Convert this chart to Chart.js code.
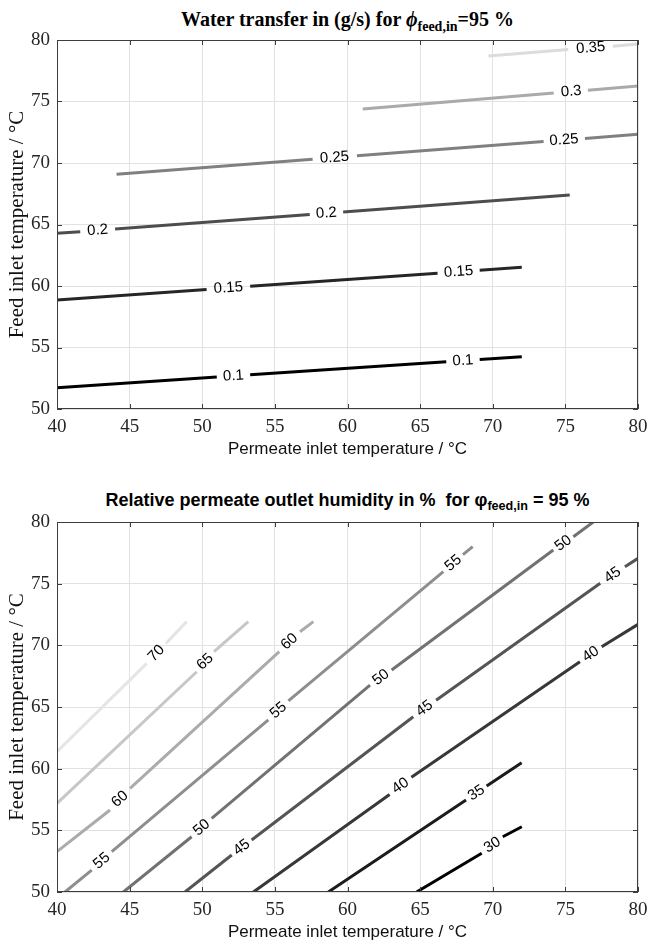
<!DOCTYPE html>
<html><head><meta charset="utf-8">
<script src="https://cdn.jsdelivr.net/npm/chart.js@4.4.1/dist/chart.umd.min.js"></script>
<style>
html,body{margin:0;padding:0;background:#fff;width:648px;height:945px;overflow:hidden;position:relative}
canvas{position:absolute;left:0}
#c1{top:0}
#c2{top:482px}
.title{position:absolute;left:57px;width:581px;text-align:center;white-space:nowrap;color:#000}
#t1{top:8px;font:bold 20px "Liberation Serif",serif;line-height:22px}
#t2{top:489px;font:bold 18px "Liberation Sans",Arial,sans-serif;line-height:22px}
.title sub{font-size:70%;vertical-align:-0.35em;line-height:0}
</style></head>
<body>
<div id="t1" class="title">Water transfer in (g/s) for <i>ϕ</i><sub>feed,in</sub>=95 %</div>
<canvas id="c1" width="648" height="470"></canvas>
<div id="t2" class="title">Relative permeate outlet humidity in %&nbsp; for φ<sub>feed,in</sub> = 95 %</div>
<canvas id="c2" width="648" height="463"></canvas>
<script>
// ---------- tick values ----------
const xTickValues = [40, 45, 50, 55, 60, 65, 70, 75, 80];
const yTickValues = [50, 55, 60, 65, 70, 75, 80];

// ---------- top chart: water transfer (g/s) contour lines ----------
const topLevels = ['0.1', '0.15', '0.2', '0.25', '0.3', '0.35'];
const top010X = [40, 51.0, null, 53.3, 66.8, null, 69.1, 72.0];
const top010Y = [51.73, 52.60, null, 52.78, 53.84, null, 54.02, 54.25];
const top010Labels = [[52.15, 52.69], [67.95, 53.93]];
const top015X = [40, 50.3, null, 53.3, 66.2, null, 69.1, 72.0];
const top015Y = [58.86, 59.72, null, 59.97, 61.04, null, 61.28, 61.52];
const top015Labels = [[51.8, 59.84], [67.65, 61.16]];
const top020X = [40, 41.6, null, 44.0, 57.4, null, 59.7, 75.3];
const top020Y = [64.28, 64.42, null, 64.63, 65.82, null, 66.02, 67.40];
const top020Labels = [[42.8, 64.53], [58.55, 65.92]];
const top025X = [44.1, 57.6, null, 60.65, 73.5, null, 76.35, 80];
const top025Y = [69.08, 70.30, null, 70.58, 71.74, null, 72.00, 72.33];
const top025Labels = [[59.1, 70.44], [74.9, 71.87]];
const top030X = [61.05, 74.2, null, 76.55, 80];
const top030Y = [74.39, 75.69, null, 75.92, 76.26];
const top030Labels = [[75.4, 75.81]];
const top035X = [69.7, 75.2, null, 78.26, 80];
const top035Y = [78.70, 79.22, null, 79.50, 79.67];
const top035Labels = [[76.75, 79.36]];

// ---------- bottom chart: relative permeate outlet humidity (%) ----------
const botLevels = ['30', '35', '40', '45', '50', '55', '60', '65', '70'];
const b30X = [64.76, 69.24, null, 70.69, 72.0];
const b30Y = [50, 53.14, null, 54.48, 55.29];
const b30Labels = [[69.97, 53.81]];
const b35X = [58.68, 68.16, null, 69.58, 71.99];
const b35Y = [50, 57.46, null, 58.59, 60.48];
const b35Labels = [[68.87, 58.03]];
const b40X = [53.52, 62.9, null, 64.4, 76.0, null, 77.5, 80];
const b40Y = [50, 57.9, null, 59.3, 68.67, null, 69.89, 71.7];
const b40Labels = [[63.65, 58.6], [76.75, 69.28]];
const b45X = [48.81, 52.03, null, 53.4, 64.53, null, 66.1, 77.4, null, 79.1, 80];
const b45Y = [50, 53.0, null, 54.22, 64.21, null, 65.55, 75.03, null, 76.38, 77.05];
const b45Labels = [[52.72, 53.61], [65.3, 64.88], [78.25, 75.7]];
const b50X = [44.57, 49.27, null, 50.65, 61.55, null, 63.04, 74.17, null, 75.55, 76.92];
const b50Y = [50, 54.48, null, 55.97, 66.78, null, 68.0, 77.73, null, 78.81, 80];
const b50Labels = [[49.96, 55.22], [62.3, 67.4], [74.86, 78.27]];
const b55X = [40.55, 42.39, null, 43.77, 54.55, null, 55.93, 66.6, null, 67.95, 68.62];
const b55Y = [50, 51.78, null, 53.27, 63.95, null, 65.5, 75.97, null, 77.35, 78.0];
const b55Labels = [[43.08, 52.52], [55.24, 64.72], [67.28, 76.66]];
const b60X = [40, 43.65, null, 45.03, 55.3, null, 56.73, 57.65];
const b60Y = [53.27, 56.65, null, 58.41, 69.49, null, 71.1, 71.92];
const b60Labels = [[44.34, 57.53], [56.0, 70.3]];
const b65X = [40, 49.62, null, 50.81, 53.17];
const b65Y = [57.19, 67.86, null, 69.48, 71.92];
const b65Labels = [[50.2, 68.67]];
const b70X = [40, 46.18, null, 47.5, 48.93];
const b70Y = [61.38, 68.54, null, 70.16, 71.92];
const b70Labels = [[46.84, 69.35]];

// ---------- styling ----------
const topColors = ['#000000', '#262626', '#4d4d4d', '#808080', '#aaaaaa', '#dcdcdc'];
const botColors = ['#000000', '#1c1c1c', '#383838', '#555555', '#727272', '#8e8e8e', '#ababab', '#c7c7c7', '#e5e5e5'];

function toPoints(xs, ys) {
  return xs.map((x, i) => x === null ? {x: null, y: null} : {x: x, y: ys[i]});
}
function makeDatasets(levels, xsList, ysList, labList, colors) {
  return levels.map((lv, i) => ({
    label: lv,
    data: toPoints(xsList[i], ysList[i]),
    contourLabels: labList[i],
    borderColor: colors[i],
    backgroundColor: colors[i],
    borderWidth: 3,
    pointRadius: 0,
    spanGaps: false,
    tension: 0,
    fill: false
  }));
}

const topDatasets = makeDatasets(topLevels,
  [top010X, top015X, top020X, top025X, top030X, top035X],
  [top010Y, top015Y, top020Y, top025Y, top030Y, top035Y],
  [top010Labels, top015Labels, top020Labels, top025Labels, top030Labels, top035Labels],
  topColors);
const botDatasets = makeDatasets(botLevels,
  [b30X, b35X, b40X, b45X, b50X, b55X, b60X, b65X, b70X],
  [b30Y, b35Y, b40Y, b45Y, b50Y, b55Y, b60Y, b65Y, b70Y],
  [b30Labels, b35Labels, b40Labels, b45Labels, b50Labels, b55Labels, b60Labels, b65Labels, b70Labels],
  botColors);

const decorPlugin = {
  id: 'contourDecor',
  afterDatasetsDraw(chart) {
    const {ctx, chartArea: a, scales: {x, y}} = chart;
    ctx.save();
    // inline contour labels
    ctx.font = '15px "Liberation Sans", Arial, sans-serif';
    ctx.fillStyle = '#000';
    ctx.textAlign = 'center';
    ctx.textBaseline = 'middle';
    chart.data.datasets.forEach(ds => {
      const d = ds.data;
      (ds.contourLabels || []).forEach(([lx, ly]) => {
        let k = -1;
        for (let i = 1; i < d.length - 1; i++) {
          if (d[i].y === null && d[i - 1].x <= lx + 0.01 && d[i + 1].x >= lx - 0.01) { k = i; break; }
        }
        let p0, p1;
        if (k > 0) { p0 = d[k - 2] || d[k - 1]; p1 = d[k + 2] || d[k + 1]; }
        else { p0 = d[0]; p1 = d[d.length - 1]; }
        const ang = Math.atan2(y.getPixelForValue(p1.y) - y.getPixelForValue(p0.y),
                               x.getPixelForValue(p1.x) - x.getPixelForValue(p0.x));
        ctx.save();
        ctx.translate(x.getPixelForValue(lx), y.getPixelForValue(ly));
        ctx.rotate(ang);
        ctx.fillText(ds.label, 0, 0);
        ctx.restore();
      });
    });
    // box and inward ticks
    ctx.strokeStyle = '#3d3d3d';
    ctx.lineWidth = 1;
    ctx.strokeRect(a.left + 0.5, a.top + 0.5, a.right - a.left - 1, a.bottom - a.top - 1);
    ctx.beginPath();
    xTickValues.forEach(v => {
      const px = Math.round(x.getPixelForValue(v)) + 0.5;
      ctx.moveTo(px, a.bottom); ctx.lineTo(px, a.bottom - 5);
      ctx.moveTo(px, a.top); ctx.lineTo(px, a.top + 5);
    });
    yTickValues.forEach(v => {
      const py = Math.round(y.getPixelForValue(v)) + 0.5;
      ctx.moveTo(a.left, py); ctx.lineTo(a.left + 5, py);
      ctx.moveTo(a.right, py); ctx.lineTo(a.right - 5, py);
    });
    ctx.stroke();
    ctx.restore();
  }
};

function makeChart(id, datasets, xScaleHeight, xTitlePad) {
  return new Chart(document.getElementById(id), {
    type: 'line',
    data: {datasets: datasets},
    plugins: [decorPlugin],
    options: {
      responsive: false,
      animation: false,
      devicePixelRatio: 1,
      layout: {padding: {top: 40, right: 10, left: 0, bottom: 0}},
      plugins: {legend: {display: false}, tooltip: {enabled: false}, title: {display: false}},
      elements: {point: {radius: 0}, line: {borderCapStyle: 'butt'}},
      scales: {
        x: {
          type: 'linear', min: 40, max: 80,
          afterBuildTicks(s) { s.ticks = xTickValues.map(v => ({value: v})); },
          ticks: {font: {family: '"Liberation Serif", serif', size: 19}, color: '#262626', padding: 7, maxRotation: 0, autoSkip: false},
          grid: {color: '#e2e2e2', drawTicks: false},
          border: {display: false},
          title: {display: true, text: 'Permeate inlet temperature / °C',
                  font: {family: '"Liberation Sans", Arial, sans-serif', size: 17}, color: '#111',
                  padding: {top: 0, bottom: xTitlePad}},
          afterFit(s) { s.height = xScaleHeight; s.paddingLeft = 0; s.paddingRight = 0; }
        },
        y: {
          type: 'linear', min: 50, max: 80,
          afterBuildTicks(s) { s.ticks = yTickValues.map(v => ({value: v})); },
          ticks: {font: {family: '"Liberation Serif", serif', size: 19}, color: '#262626', padding: 7, autoSkip: false},
          grid: {color: '#e2e2e2', drawTicks: false},
          border: {display: false},
          title: {display: true, text: 'Feed inlet temperature / °C',
                  font: {family: '"Liberation Serif", serif', size: 21}, color: '#111',
                  padding: {top: 5, bottom: 0}},
          afterFit(s) { s.width = 57; s.paddingTop = 0; s.paddingBottom = 0; }
        }
      }
    }
  });
}

makeChart('c1', topDatasets, 61, 10.3);
makeChart('c2', botDatasets, 53, 2.3);
</script>
</body></html>
